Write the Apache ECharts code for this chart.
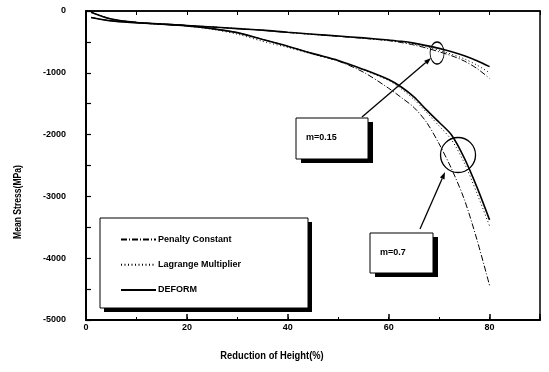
<!DOCTYPE html>
<html>
<head>
<meta charset="utf-8">
<script src="https://cdn.jsdelivr.net/npm/echarts@6/dist/echarts.min.js"></script>
<style>
  html, body { margin: 0; padding: 0; background: #fff; }
  #chart { width: 549px; height: 372px; }
</style>
</head>
<body>
<div id="chart"></div>
<script>
// reduction of height (%)
const reduction = [1, 5, 10, 15, 20, 25, 30, 35, 40, 45, 50, 55, 60, 62.5, 65, 67.5, 70, 72.5, 75, 77.5, 80]

// m = 0.15
const deform015 = [-105, -160, -190, -215, -235, -258, -285, -310, -345, -375, -405, -435, -470, -490, -520, -560, -605, -660, -725, -805, -900]
const lagrange015 = [-105, -160, -190, -215, -235, -258, -285, -312, -347, -378, -408, -440, -475, -500, -535, -580, -635, -700, -775, -875, -1000]
const penalty015 = [-105, -160, -190, -215, -235, -258, -285, -312, -347, -378, -410, -442, -480, -510, -550, -600, -660, -725, -810, -930, -1090]

// m = 0.7
const deform07 = [-20, -130, -185, -210, -240, -285, -350, -460, -570, -690, -800, -945, -1110, -1230, -1390, -1600, -1800, -2010, -2380, -2850, -3380]
const lagrange07 = [-20, -130, -185, -210, -245, -295, -375, -490, -590, -700, -810, -955, -1125, -1260, -1430, -1640, -1860, -2090, -2460, -2950, -3480]
const penalty07 = [-20, -130, -185, -210, -240, -285, -350, -460, -570, -690, -810, -990, -1250, -1400, -1560, -1800, -2150, -2560, -3050, -3700, -4440]

const xTicks = [0, 20, 40, 60, 80]
const yTicks = [0, -1000, -2000, -3000, -4000, -5000]

const FONT = "'Liberation Sans', Arial, sans-serif"

const pairs = (ys) => reduction.map((x, i) => [x, ys[i]])

const dashDot = [6, 2, 1, 2]
const dotted = [1, 2.5]

const mkSeries = (name, ys, type, width) => ({
  name: name,
  type: 'line',
  data: pairs(ys),
  smooth: 0.3,
  symbol: 'none',
  xAxisIndex: 0,
  yAxisIndex: 0,
  lineStyle: { color: '#000', width: width, type: type },
  itemStyle: { color: '#000' },
  silent: true,
  animation: false
})

const chart = echarts.init(document.getElementById('chart'))

const option = {
  animation: false,
  backgroundColor: '#fff',
  grid: { left: 86, right: 9, top: 11, bottom: 52, show: true, borderColor: '#000', borderWidth: 1.5, backgroundColor: 'transparent' },
  xAxis: [
    {
      type: 'value', min: 0, max: 90, interval: 20, position: 'bottom',
      axisLine: { show: true, onZero: false, lineStyle: { color: '#000', width: 2 } },
      axisTick: { show: true, inside: true, length: 6, lineStyle: { color: '#000', width: 1.5 } },
      axisLabel: {
        margin: 3, color: '#000', fontFamily: FONT, fontSize: 9, fontWeight: 'bold',
        formatter: (v) => (xTicks.indexOf(v) >= 0 ? String(v) : '')
      },
      splitLine: { show: false }
    },
    {
      type: 'value', min: 0, max: 90, interval: 10, position: 'bottom',
      axisLine: { show: false, onZero: false },
      axisTick: { show: true, inside: true, length: 3, lineStyle: { color: '#000', width: 1 } },
      axisLabel: { show: false },
      splitLine: { show: false }
    },
    {
      type: 'value', min: 0, max: 90, interval: 10, position: 'top',
      axisLine: { show: true, onZero: false, lineStyle: { color: '#000', width: 1.5 } },
      axisTick: { show: true, inside: true, length: 4, lineStyle: { color: '#000', width: 1 } },
      axisLabel: { show: false },
      splitLine: { show: false }
    }
  ],
  yAxis: [
    {
      type: 'value', min: -5000, max: 0, interval: 500, position: 'left',
      axisLine: { show: true, onZero: false, lineStyle: { color: '#000', width: 2 } },
      axisTick: { show: true, inside: true, length: 5, lineStyle: { color: '#000', width: 1.2 } },
      axisLabel: {
        margin: 20, color: '#000', fontFamily: FONT, fontSize: 9, fontWeight: 'bold',
        formatter: (v) => (yTicks.indexOf(v) >= 0 ? String(v) : '')
      },
      splitLine: { show: false }
    }
  ],
  legend: {
    orient: 'vertical',
    left: 100,
    top: 218,
    data: ['Penalty Constant', 'Lagrange Multiplier', 'DEFORM'],
    itemWidth: 35,
    itemHeight: 14,
    itemGap: 14,
    padding: [16, 20, 14, 20],
    selectedMode: false,
    itemStyle: { color: 'rgba(0,0,0,0)', borderWidth: 0, opacity: 0 },
    textStyle: { fontFamily: FONT, fontSize: 9, fontWeight: 'bold', color: '#000', padding: [0, 0, 0, -3] },
    z: 30
  },
  series: [
    mkSeries('Penalty Constant', penalty015, dashDot, 1),
    mkSeries('Lagrange Multiplier', lagrange015, dotted, 1),
    mkSeries('DEFORM', deform015, 'solid', 1.6),
    mkSeries('Penalty Constant', penalty07, dashDot, 1),
    mkSeries('Lagrange Multiplier', lagrange07, dotted, 1),
    mkSeries('DEFORM', deform07, 'solid', 1.6)
  ]
}

chart.setOption(option)

// annotations: callout boxes, arrows and rings
const ring015 = [69.6, -680]
const ring07 = [73.75, -2330]

const px = (pt) => chart.convertToPixel({ xAxisIndex: 0, yAxisIndex: 0 }, pt)

const arrow = (from, to) => {
  const dx = to[0] - from[0], dy = to[1] - from[1]
  const len = Math.sqrt(dx * dx + dy * dy)
  const ux = dx / len, uy = dy / len
  const hl = 7, hw = 2.5
  const bx = to[0] - ux * hl, by = to[1] - uy * hl
  return [
    { type: 'line', shape: { x1: from[0], y1: from[1], x2: bx, y2: by }, style: { stroke: '#000', lineWidth: 1.3 }, z: 20 },
    { type: 'polygon', shape: { points: [to, [bx - uy * hw, by + ux * hw], [bx + uy * hw, by - ux * hw]] }, style: { fill: '#000' }, z: 20 }
  ]
}

// white box with a hard black drop shadow
const box = (x, y, w, h, sx, sy, z) => [
  { type: 'rect', shape: { x: x + sx, y: y + sy, width: w, height: h }, style: { fill: '#000' }, z: z },
  { type: 'rect', shape: { x: x, y: y, width: w, height: h }, style: { fill: '#fff', stroke: '#000', lineWidth: 1 }, z: z + 1 }
]

const label = (x, y, text) => ({
  type: 'text', x: x, y: y, z: 25,
  style: { text: text, fill: '#000', font: 'bold 9px ' + FONT, textAlign: 'left', textVerticalAlign: 'middle' }
})

const r1 = px(ring015)
const r2 = px(ring07)

chart.setOption({
  graphic: [
    { type: 'circle', x: r1[0], y: r1[1], scaleX: 0.64, scaleY: 1, shape: { cx: 0, cy: 0, r: 11 }, style: { fill: 'none', stroke: '#000', lineWidth: 1.3, strokeNoScale: true }, z: 20 },
    { type: 'circle', shape: { cx: r2[0], cy: r2[1], r: 17.5 }, style: { fill: 'none', stroke: '#000', lineWidth: 1.3 }, z: 20 },
    ...arrow([362, 117], [r1[0] - 6, r1[1] + 5]),
    ...arrow([420, 229], [r2[0] - 13, r2[1] + 17]),
    ...box(296, 118, 72, 41, 5, 4, 21),
    label(306, 138, 'm=0.15'),
    ...box(370, 233, 63, 40, 5, 4, 21),
    label(380, 253, 'm=0.7'),
    ...box(100, 218, 208, 90, 4, 4, 21),
    { type: 'text', x: 18, y: 202, rotation: Math.PI / 2, scaleX: 0.78, style: { text: 'Mean Stress(MPa)', fill: '#000', font: 'bold 11px ' + FONT, textAlign: 'center', textVerticalAlign: 'middle' } },
    { type: 'text', x: 272, y: 356, scaleX: 0.85, style: { text: 'Reduction of Height(%)', fill: '#000', font: 'bold 11px ' + FONT, textAlign: 'center', textVerticalAlign: 'middle' } }
  ]
})
</script>
</body>
</html>
